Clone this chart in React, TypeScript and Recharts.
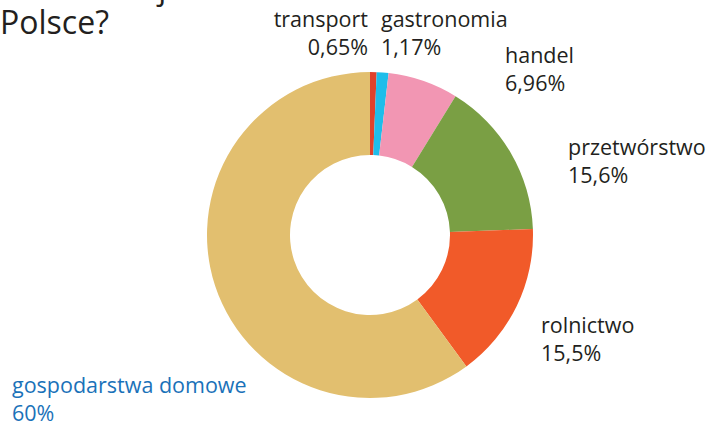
import React from 'react';
import { PieChart, Pie, Cell } from 'recharts';

const sectors = ['transport', 'gastronomia', 'handel', 'przetwórstwo', 'rolnictwo', 'gospodarstwa domowe'];
const shares = [0.65, 1.17, 6.96, 15.6, 15.5, 60];
const shareLabels = ['0,65%', '1,17%', '6,96%', '15,6%', '15,5%', '60%'];
const colors = ['#e0412b', '#1ebdea', '#f296b3', '#7a9f44', '#f15a29', '#e2bf6f'];

// where each sector's caption sits (x, y of first line, anchor)
const labelPos: Record<string, { x: number; y: number; anchor: 'start' | 'end'; color?: string }> = {
  transport: { x: 368, y: 27, anchor: 'end' },
  gastronomia: { x: 381, y: 27, anchor: 'start' },
  handel: { x: 505, y: 63, anchor: 'start' },
  'przetwórstwo': { x: 568, y: 155, anchor: 'start' },
  rolnictwo: { x: 541, y: 333, anchor: 'start' },
  'gospodarstwa domowe': { x: 12, y: 393, anchor: 'start', color: '#1a72b9' },
};

const data = sectors.map((name, i) => ({ name, value: shares[i], text: shareLabels[i] }));

const font = '"Open Sans", "Noto Sans", sans-serif';

const renderLabel = (props: any) => {
  const p = labelPos[props.name];
  if (!p) return null;
  const fill = p.color || '#231f20';
  return (
    <text x={p.x} y={p.y} textAnchor={p.anchor} fill={fill} fontSize={21.5} fontFamily={font}>
      <tspan x={p.x}>{props.name}</tspan>
      <tspan x={p.x} dy={28}>{props.payload.text}</tspan>
    </text>
  );
};

export default function App() {
  return (
    <div style={{ position: 'fixed', left: 0, top: 0, width: 713, height: 425, background: '#fff' }}>
      <PieChart width={713} height={425} margin={{ top: 0, right: 0, bottom: 0, left: 0 }}>
        <text x={0} y={-1} fill="#231f20" fontSize={32} fontFamily={font}>
          Kto marnuje
        </text>
        <text x={0} y={34} fill="#231f20" fontSize={32} fontFamily={font}>
          Polsce?
        </text>
        <Pie
          data={data}
          dataKey="value"
          nameKey="name"
          cx={370}
          cy={235}
          innerRadius={80}
          outerRadius={163}
          startAngle={90}
          endAngle={-270}
          stroke="none"
          label={renderLabel}
          labelLine={false}
          isAnimationActive={false}
        >
          {data.map((d, i) => (
            <Cell key={d.name} fill={colors[i]} />
          ))}
        </Pie>
      </PieChart>
    </div>
  );
}
